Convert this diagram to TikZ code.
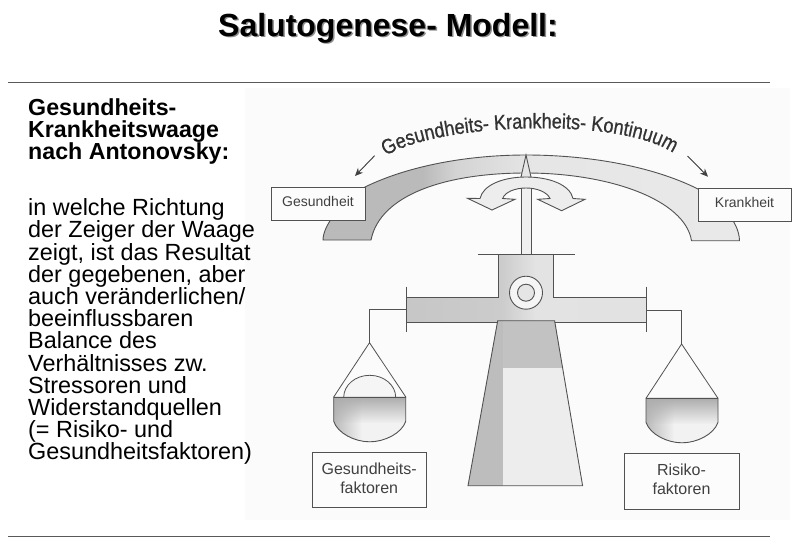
\documentclass[tikz,border=0pt]{standalone}
\usepackage{fontspec}
\setmainfont{Liberation Sans}
\newfontfamily\curvefont[FakeBold=0.8,FakeStretch=0.86]{Liberation Sans}
\usepackage{tikz}
\usetikzlibrary{decorations.text,arrows.meta,fadings}

\colorlet{scanline}{black!68}
\colorlet{scantext}{black!75}

\pgfdeclarehorizontalshading{bowshade}{100bp}{color(0bp)=(black!27); color(37bp)=(black!27); color(41bp)=(black!17); color(50bp)=(black!10); color(100bp)=(black!7)}
\pgfdeclarehorizontalshading{beamshade}{100bp}{color(0bp)=(black!25); color(45bp)=(black!20); color(52bp)=(black!11); color(100bp)=(black!12)}

\tikzset{
  rule/.style={draw=black!65, line width=1pt},
  part/.style={draw=scanline, line width=0.9pt},
  hanger/.style={draw=scanline, line width=0.8pt},
  labelbox/.style={draw=scanline, line width=0.9pt, fill=black!1, text=scantext, align=center, inner sep=0pt, minimum height=33pt, text depth=5pt},
  bowarrow/.style={-{Stealth[length=8pt,width=7pt]}, draw=black!75, fill=black!75, line width=0.9pt},
  sidetext/.style={anchor=north west, align=left, inner sep=0pt, text=black}
}

\begin{document}
\begin{tikzpicture}[x=1pt,y=-1pt]
  \useasboundingbox (0,0) rectangle (800,544);
  \fill[black!1.5] (245,88) rectangle (790,520);

  \node[text=black!45, font=\fontsize{32}{34}\selectfont\bfseries] at (389.5,29.5) {Salutogenese- Modell:};
  \node[font=\fontsize{32}{34}\selectfont\bfseries] (title) at (388,28) {Salutogenese- Modell:};
  \coordinate (ruletopa) at (8,82);
  \coordinate (ruletopb) at (770,82);
  \coordinate (rulebota) at (8,536);
  \coordinate (rulebotb) at (770,536);
  \draw[rule] (ruletopa) -- (ruletopb);
  \draw[rule] (rulebota) -- (rulebotb);

  \node[sidetext, font=\fontsize{23.2}{22.2}\selectfont\bfseries] (heading) at (28,98.5) {Gesundheits-\\Krankheitswaage\\nach Antonovsky:};
  \node[sidetext, font=\fontsize{23.4}{22.2}\selectfont] (body) at (28,198.5) {in welche Richtung\\der Zeiger der Waage\\zeigt, ist das Resultat\\der gegebenen, aber\\auch veränderlichen/\\beeinflussbaren\\Balance des\\Verhältnisses zw.\\Stressoren und\\Widerstandquellen\\(= Risiko- und\\Gesundheitsfaktoren)};

  % bow with the scale
  \path[part, shading=bowshade] (323,240) .. controls (323,226) and (340,203) .. (365,187)
    .. controls (410,165) and (470,155) .. (526,155)
    .. controls (585,155) and (650,165) .. (698,189)
    .. controls (722,203) and (739,222) .. (739.5,240.7) -- (691.5,240.7)
    .. controls (685,200) and (610,173) .. (526,173)
    .. controls (445,173) and (380,195) .. (371,240) -- cycle;
  \node[labelbox, minimum width=94pt, font=\fontsize{14}{16}\selectfont] (health) at (318,204) {Gesundheit};
  \node[labelbox, minimum width=93pt, font=\fontsize{14}{16}\selectfont] (illness) at (744.5,205.3) {Krankheit};

  \path[decorate, decoration={text along path, text align=center, text={|\curvefont\fontsize{21}{22}\selectfont\color{black!80}|Gesundheits- Krankheits- Kontinuum}}]
    (383,158) .. controls (430,123) and (624,115) .. (676,155);
  \coordinate (arrowla) at (374.6,155.7);
  \coordinate (arrowlb) at (355,176);
  \coordinate (arrowra) at (687.5,156);
  \coordinate (arrowrb) at (708,176.7);
  \draw[bowarrow] (arrowla) -- (arrowlb);
  \draw[bowarrow] (arrowra) -- (arrowrb);

  % pointer and turning arrows
  \path[part, fill=black!10] (521,177) -- (526,155) -- (531,177);
  \path[part, fill=black!7] (480,198.5) .. controls (483,185) and (503,177) .. (526,177)
    .. controls (550,177) and (570,185) .. (573,198.5)
    -- (585,199.3) -- (561.6,210.7) -- (537.7,199.3) -- (550,198.5)
    .. controls (547,192) and (537,188) .. (526,188)
    .. controls (515,188) and (505,192) .. (502.6,198.5)
    -- (515,199.3) -- (492,210) -- (467.5,198.3) -- cycle;
  \fill[black!6] (521.5,188.5) rectangle (530.5,253.5);
  \draw[part] (521,254) -- (521,188);
  \draw[part] (531,188) -- (531,254);

  % beam and block
  \path[part, shading=beamshade] (406,297) -- (498.4,297) -- (498.4,254) -- (553.5,254) -- (553.5,297) -- (646,297) -- (646,322) -- (406,322) -- cycle;
  \draw[part] (478,254) -- (574.5,254);
  \draw[part] (406,286.7) -- (406,331.7);
  \draw[part] (646,286.7) -- (646,331.7);
  \draw[part, fill=black!4] (526,292.7) circle (16.5);
  \draw[part, fill=black!10] (526,292.7) circle (8.5);

  % column
  \begin{scope}
    \clip (497.7,320.7) -- (554.6,320.7) -- (582.6,485.7) -- (468,485.7) -- cycle;
    \fill[black!7] (460,320) rectangle (590,490);
    \fill[black!24] (460,320) rectangle (590,368);
    \fill[black!26] (460,320) rectangle (503,490);
  \end{scope}
  \draw[part] (497.7,320.7) -- (554.6,320.7) -- (582.6,485.7) -- (468,485.7) -- cycle;

  % scale pans
  \coordinate (hookl) at (406,309);
  \coordinate (hookr) at (646,310);
  \coordinate (apexl) at (369.5,342.7);
  \coordinate (apexr) at (681.6,344);
  \coordinate (panla) at (333.5,397.3);
  \coordinate (panlb) at (406,397.3);
  \coordinate (panra) at (646,398.3);
  \coordinate (panrb) at (718,398.3);
  \draw[hanger] (hookl) -| (apexl);
  \draw[hanger] (hookr) -| (apexr);
  \draw[hanger] (panla) -- (apexl) -- (panlb);
  \draw[hanger] (panra) -- (apexr) -- (panrb);
  \draw[hanger, fill=black!4] (343.7,397.3) arc (180:360:26 and 22);
  \foreach \panx/\pany in {369.7/397.3, 682/398.3}{
    \begin{scope}[shift={(\panx,\pany)}]
      \begin{scope}
        \clip (-36,0) -- (36,0) -- (36,24) .. controls (32,36) and (15,44.5) .. (0,44.5) .. controls (-15,44.5) and (-32,36) .. (-36,24) -- cycle;
        \fill[black!5] (-40,0) rectangle (40,50);
        \fill[black!30, path fading=east] (-40,0) rectangle (-8,50);
        \fill[black!32, path fading=south] (-40,0) rectangle (40,26);
      \end{scope}
      \draw[part] (-36,0) -- (36,0) -- (36,24) .. controls (32,36) and (15,44.5) .. (0,44.5) .. controls (-15,44.5) and (-32,36) .. (-36,24) -- cycle;
    \end{scope}
  }

  \node[labelbox, minimum width=114.5pt, minimum height=55pt, font=\fontsize{16}{19}\selectfont] (healthfac) at (369.2,480.2) {Gesundheits-\\faktoren};
  \node[labelbox, minimum width=115pt, minimum height=55.3pt, font=\fontsize{16}{19}\selectfont] (riskfac) at (681.5,481.3) {Risiko-\\faktoren};
\end{tikzpicture}
\end{document}
